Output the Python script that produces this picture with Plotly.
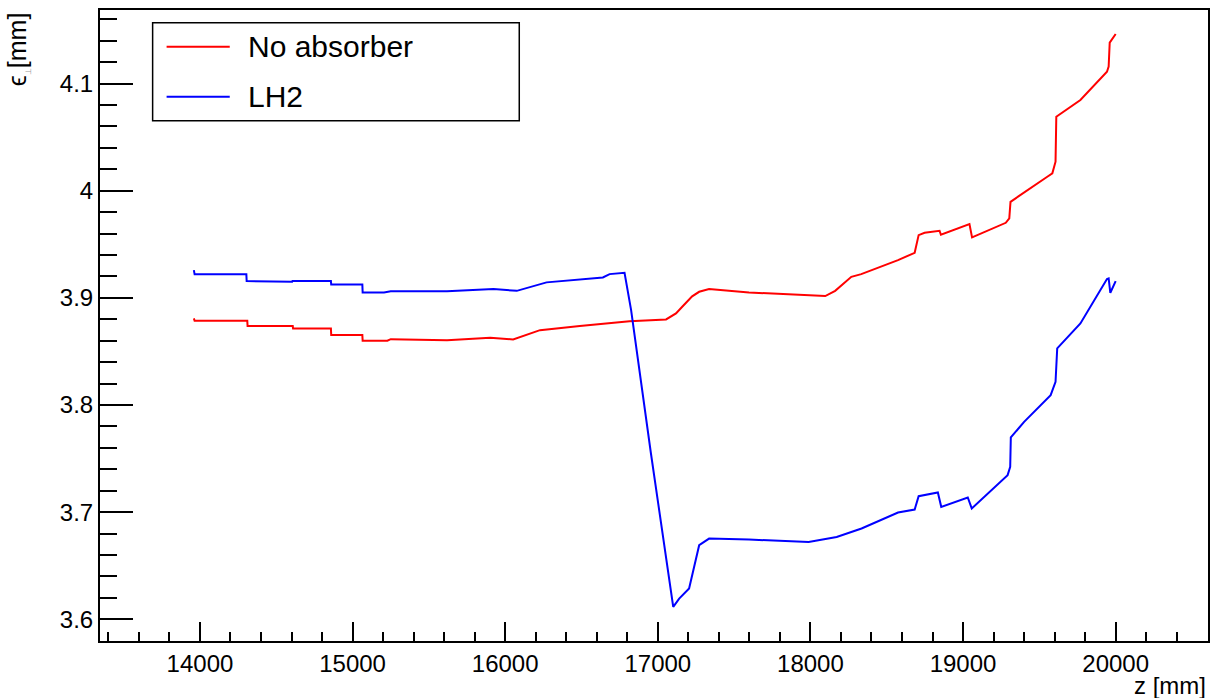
import plotly.graph_objects as go

# Emittance along the beamline, with and without the LH2 absorber
series_names = ["No absorber", "LH2"]
series_colors = ["#ff0000", "#0000ff"]

z_no_abs = [13960, 13965, 14310, 14312, 14608, 14610, 14858, 14860, 15064, 15066,
            15228, 15250, 15619, 15902, 16052, 16228, 16489, 16815, 17054, 17119,
            17160, 17225, 17271, 17336, 17597, 18097, 18162, 18268, 18333, 18574,
            18683, 18709, 18748, 18846, 18855, 19042, 19059, 19280, 19303, 19311,
            19552, 19585, 19606, 19611, 19769, 19943, 19954, 19961, 20000]
eps_no_abs = [3.8808, 3.8785, 3.8785, 3.8736, 3.8736, 3.8714, 3.8714, 3.8652, 3.8652, 3.8599,
              3.8599, 3.8614, 3.8605, 3.8627, 3.8612, 3.8698, 3.8736, 3.8782, 3.8798, 3.8854,
              3.8916, 3.9014, 3.9056, 3.9081, 3.9050, 3.9016, 3.9065, 3.9196, 3.9221, 3.9352,
              3.9420, 3.9585, 3.9607, 3.9626, 3.9588, 3.9688, 3.9564, 3.9700, 3.9741, 3.9896,
              4.0130, 4.0162, 4.0270, 4.0690, 4.0846, 4.1110, 4.1157, 4.1381, 4.1462]

z_lh2 = [13960, 13965, 14304, 14306, 14604, 14606, 14858, 14860, 15064, 15066,
         15206, 15250, 15619, 15923, 16076, 16271, 16640, 16684, 16782, 16825,
         16955, 17101, 17140, 17205, 17271, 17336, 17597, 17988, 18172, 18313,
         18335, 18574, 18683, 18709, 18835, 18857, 19031, 19057, 19292, 19309,
         19313, 19400, 19574, 19606, 19617, 19769, 19943, 19954, 19965, 20000]
eps_lh2 = [3.9259, 3.9219, 3.9219, 3.9156, 3.9150, 3.9156, 3.9156, 3.9125, 3.9125, 3.9050,
           3.9050, 3.9062, 3.9062, 3.9081, 3.9065, 3.9144, 3.9190, 3.9221, 3.9233, 3.8885,
           3.7547, 3.6115, 3.6193, 3.6287, 3.6691, 3.6753, 3.6744, 3.6722, 3.6768, 3.6831,
           3.6847, 3.6996, 3.7024, 3.7148, 3.7183, 3.7049, 3.7136, 3.7034, 3.7345, 3.7422,
           3.7697, 3.7842, 3.8091, 3.8216, 3.8528, 3.8761, 3.9175, 3.9181, 3.9047, 3.9156]

x_range = [13345, 20605]
y_range = [3.5797, 4.1686]

FONT = "Liberation Sans, Arial, Helvetica, sans-serif"
TICK_SIZE = 24

fig = go.Figure()
for name, color, zs, es in [(series_names[0], series_colors[0], z_no_abs, eps_no_abs),
                            (series_names[1], series_colors[1], z_lh2, eps_lh2)]:
    fig.add_trace(go.Scatter(x=zs, y=es, mode="lines", name=name,
                             line=dict(color=color, width=2), showlegend=False))

axis_common = dict(showline=True, linecolor="black", linewidth=2, mirror=True,
                   showgrid=False, zeroline=False, ticks="inside", tickcolor="black",
                   tickwidth=2, tickfont=dict(family=FONT, size=TICK_SIZE, color="black"))

fig.update_xaxes(range=x_range, tick0=14000, dtick=1000, ticklen=19, tickformat="d",
                 minor=dict(ticks="inside", dtick=200, tick0=14000, ticklen=9,
                            tickwidth=2, tickcolor="black"),
                 **axis_common)
fig.update_yaxes(range=y_range, tick0=3.6, dtick=0.1, ticklen=33,
                 minor=dict(ticks="inside", dtick=0.02, tick0=3.6, ticklen=17,
                            tickwidth=2, tickcolor="black"),
                 **axis_common)

# Legend box drawn in paper coordinates
lg_x0, lg_x1, lg_y0, lg_y1 = 0.0475, 0.3784, 0.8246, 0.9799
shapes = [dict(type="rect", xref="paper", yref="paper", x0=lg_x0, x1=lg_x1,
               y0=lg_y0, y1=lg_y1, line=dict(color="black", width=1.5),
               fillcolor="white", layer="above")]
annotations = []
for i, (name, color) in enumerate(zip(series_names, series_colors)):
    yy = 0.9418 - i * 0.0792
    shapes.append(dict(type="line", xref="paper", yref="paper", x0=0.0601, x1=0.1171,
                       y0=yy, y1=yy, line=dict(color=color, width=2), layer="above"))
    annotations.append(dict(xref="paper", yref="paper", x=0.1315, y=yy, text=name,
                            showarrow=False, xanchor="left", yanchor="middle",
                            font=dict(family=FONT, size=30, color="black")))

# Axis titles
annotations.append(dict(xref="paper", yref="paper", x=1.0, y=-0.046, text="z [mm]",
                        showarrow=False, xanchor="right", yanchor="top",
                        font=dict(family=FONT, size=TICK_SIZE, color="black")))
annotations.append(dict(xref="paper", yref="paper", x=-0.0738, y=1.0,
                        text="ϵ<sub><span style='font-size:8px;color:#999'>⊥</span></sub>[mm]",
                        textangle=-90, showarrow=False, xanchor="center", yanchor="top",
                        font=dict(family=FONT, size=25, color="black")))

fig.update_layout(width=1216, height=698, autosize=False,
                  margin=dict(l=100, r=6, t=10, b=57),
                  paper_bgcolor="white", plot_bgcolor="white",
                  shapes=shapes, annotations=annotations,
                  font=dict(family=FONT, color="black"))

fig.write_html("out.html")
